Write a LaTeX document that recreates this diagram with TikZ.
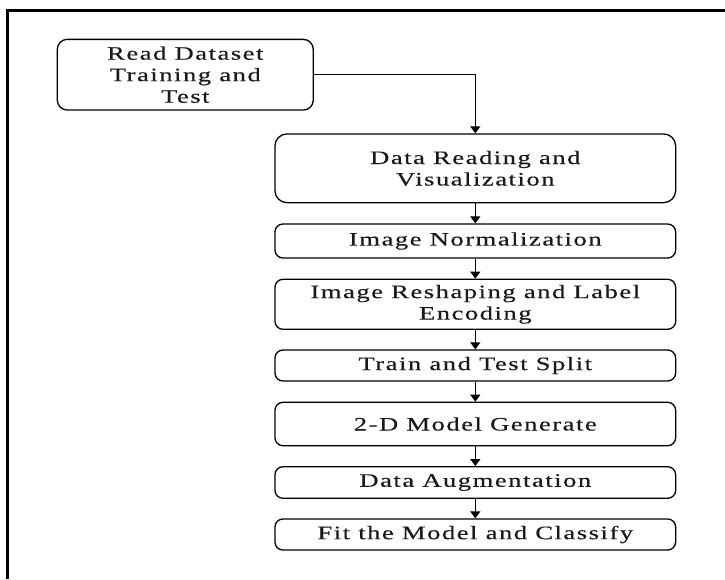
\documentclass[tikz,border=0pt]{standalone}
\usepackage{fontspec}
\setmainfont[FakeStretch=1.4,LetterSpace=8,FakeBold=0.3]{Liberation Serif}
\usetikzlibrary{arrows.meta}
\begin{document}
\begin{tikzpicture}[x=1pt,y=-1pt,
  stepbox/.style={draw=black, line width=1.3pt, rounded corners=8pt,
    minimum width=400.7pt, inner sep=0pt, align=center,
    font=\fontsize{19pt}{21.5pt}\selectfont, text=black!90},
  flow/.style={-{Triangle[length=7pt,width=10pt]}, line width=1.1pt}]
\useasboundingbox (0,0) rectangle (725,579);
% outer frame (top and left edges)
\draw[line width=3pt] (7,579) -- (7,10.8) -- (725,10.8);
% source box
\node[stepbox, minimum width=256pt, minimum height=70.7pt, rounded corners=10pt]
  (read) at (185.3,74.7) {Read Dataset\\Training and\\Test};
% processing chain
\node[stepbox, minimum height=68.7pt, rounded corners=12pt] (vis) at (475.3,168.3)
  {Data Reading and\\Visualization};
\node[stepbox, minimum height=34pt] (norm) at (475.3,241) {Image Normalization};
\node[stepbox, minimum height=50pt] (resh) at (475.3,304.3)
  {Image Reshaping and Label\\Encoding};
\node[stepbox, minimum height=31pt] (split) at (475.3,365.5) {Train and Test Split};
\node[stepbox, minimum height=43.4pt] (model) at (475.3,424) {2-D Model Generate};
\node[stepbox, minimum height=31.6pt] (aug) at (475.3,482.5) {Data Augmentation};
\node[stepbox, minimum height=31pt] (fit) at (475.3,534.5) {Fit the Model and Classify};
% connectors
\draw[flow] (read.east) -| (vis.north);
\draw[flow] (vis) -- (norm);
\draw[flow] (norm) -- (resh);
\draw[flow] (resh) -- (split);
\draw[flow] (split) -- (model);
\draw[flow] (model) -- (aug);
\draw[flow] (aug) -- (fit);
\end{tikzpicture}
\end{document}
